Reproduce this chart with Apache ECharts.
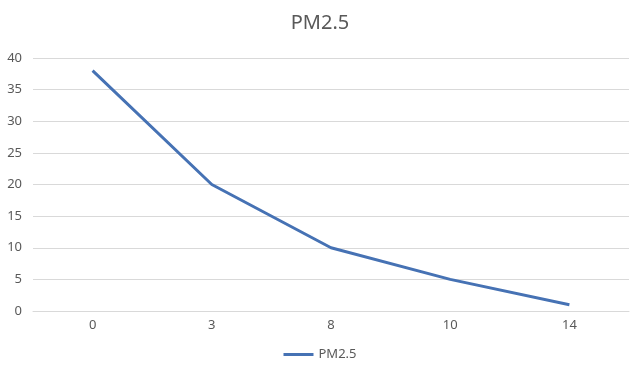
<!DOCTYPE html>
<html><head><meta charset="utf-8">
<script src="https://cdn.jsdelivr.net/npm/echarts@6/dist/echarts.min.js"></script>
<style>html,body{margin:0;padding:0;background:#fff}#c{width:640px;height:372px}</style>
</head><body><div id="c"></div>
<script>
const categories = ['0','3','8','10','14'];
const pm25 = [38, 20, 10, 5, 1];
const seriesName = 'PM2.5';
const chart = echarts.init(document.getElementById('c'));
chart.setOption({
  animation: false,
  backgroundColor: '#fff',
  title: { text: 'PM2.5', left: 'center', top: 8, textStyle: { fontFamily: 'Noto Sans', fontSize: 20, fontWeight: 'normal', color: '#595959' } },
  legend: { bottom: 6, left: 'center', itemWidth: 30, itemHeight: 3, icon: 'rect', textStyle: { fontFamily: 'Noto Sans', fontSize: 13, color: '#595959' }, data: [seriesName] },
  grid: { left: 33, right: 11, top: 58, bottom: 61 },
  xAxis: { type: 'category', data: categories, boundaryGap: true,
    axisLine: { lineStyle: { color: '#d9d9d9' } }, axisTick: { show: false },
    axisLabel: { fontFamily: 'Noto Sans', fontSize: 13, color: '#595959', margin: 8 } },
  yAxis: { type: 'value', min: 0, max: 40, interval: 5,
    axisLine: { show: false }, axisTick: { show: false },
    splitLine: { lineStyle: { color: '#d9d9d9' } },
    axisLabel: { fontFamily: 'Noto Sans', fontSize: 13, color: '#595959', margin: 11 } },
  series: [{ name: seriesName, type: 'line', data: pm25, symbol: 'none', lineStyle: { color: '#4672b4', width: 3 }, itemStyle: { color: '#4672b4' } }]
});
</script></body></html>
